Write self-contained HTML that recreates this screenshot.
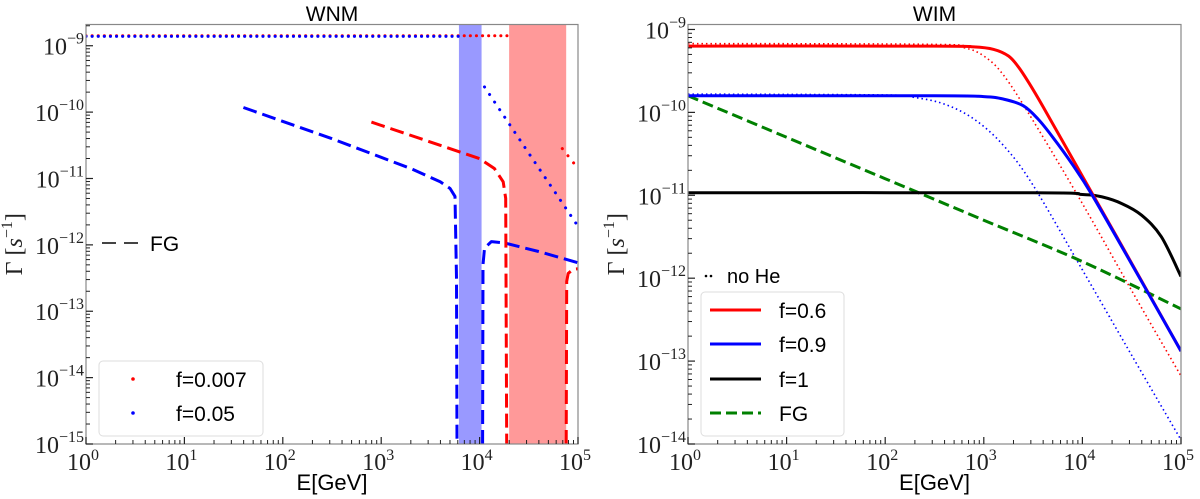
<!DOCTYPE html>
<html><head><meta charset="utf-8"><style>
body{margin:0;background:#fff;}
svg{display:block;}
text{font-family:"Liberation Sans",sans-serif;}
.tk{font-family:"Liberation Serif",serif;font-size:24px;fill:#222;}
.sup{font-size:16px;}
</style></head><body>
<svg id="chart" width="1200" height="499" viewBox="0 0 1200 499"></svg>
<script>
// ---- data (log10 E [GeV], log10 Gamma [s^-1]) ----
// WNM panel
const wnmRedDotE = [0, 4.28];
const wnmRedDotG = [-8.85, -8.85];
const wnmBlueDotE = [0, 3.79];
const wnmBlueDotG = [-8.86, -8.86];
const wnmBlueDot2E = [4.05, 4.5, 5];
const wnmBlueDot2G = [-9.62, -10.62, -11.72];
const wnmRedDot2E = [4.84, 5];
const wnmRedDot2G = [-10.55, -10.85];
const wnmBlueDashAE = [1.6, 2.5, 3.3, 3.6, 3.7, 3.75, 3.765, 3.77];
const wnmBlueDashAG = [-9.93, -10.4, -10.85, -11.05, -11.15, -11.27, -12.5, -15];
const wnmBlueDashBE = [4.03, 4.035, 4.05, 4.12, 4.25, 4.6, 5];
const wnmBlueDashBG = [-15, -12.3, -12.05, -11.95, -11.97, -12.1, -12.27];
const wnmRedDashAE = [2.9, 3.6, 4.0, 4.15, 4.24, 4.265, 4.275];
const wnmRedDashAG = [-10.15, -10.5, -10.7, -10.85, -11.05, -11.3, -15];
const wnmRedDashBE = [4.88, 4.885, 4.9, 4.95, 5];
const wnmRedDashBG = [-15, -12.55, -12.43, -12.37, -12.36];
const wnmBandBlue = [3.79, 4.02];
const wnmBandRed = [4.30, 4.88];
// WIM panel
const wimRedE = [0, 2.5, 2.9, 3.1, 3.25, 3.35, 3.45, 3.6, 4, 4.5, 5];
const wimRedG = [-9.2, -9.2, -9.21, -9.24, -9.32, -9.45, -9.63, -9.93, -10.77, -11.82, -12.88];
const wimRedDotE = [0, 2.5, 2.8, 3.0, 3.2, 3.5, 4, 4.5, 5];
const wimRedDotG = [-9.17, -9.18, -9.22, -9.32, -9.55, -10.1, -11.1, -12.15, -13.18];
const wimBlueE = [0, 2.5, 3.0, 3.2, 3.4, 3.55, 3.7, 3.9, 4.1, 4.5, 5];
const wimBlueG = [-9.8, -9.8, -9.81, -9.84, -9.92, -10.08, -10.3, -10.63, -11.0, -11.83, -12.88];
const wimBlueDotE = [0, 2, 2.3, 2.6, 2.9, 3.2, 3.5, 4, 4.5, 5];
const wimBlueDotG = [-9.78, -9.79, -9.82, -9.9, -10.08, -10.4, -10.88, -11.9, -12.93, -13.95];
const wimBlackE = [0, 3.5, 4, 4.2, 4.4, 4.6, 4.8, 5];
const wimBlackG = [-10.97, -10.97, -10.99, -11.02, -11.1, -11.24, -11.5, -11.98];
const wimFGE = [0, 1, 2, 3, 4, 5];
const wimFGG = [-9.8, -10.3, -10.8, -11.3, -11.8, -12.37];
const xTicks = [0, 1, 2, 3, 4, 5];
const wnmYTicks = [-15, -14, -13, -12, -11, -10, -9];
const wimYTicks = [-14, -13, -12, -11, -10, -9];

const NS = 'http://www.w3.org/2000/svg';
const svg = document.getElementById('chart');
function mk(tag, attrs, parent) {
  const e = document.createElementNS(NS, tag);
  for (const k in attrs) e.setAttribute(k, attrs[k]);
  (parent || svg).appendChild(e);
  return e;
}
function panel(name, x0, x1, y0, y1, ymin, ymax) {
  const g = mk('g', {});
  
  
  const sx = v => x0 + (v - 0) / 5 * (x1 - x0);
  const sy = v => y1 - (v - ymin) / (ymax - ymin) * (y1 - y0);
  return {g, sx, sy, x0, x1, y0, y1, ymin, ymax};
}
function pathD(pts, smooth) {
  if (!smooth || pts.length < 3) return pts.map((p, i) => (i ? 'L' : 'M') + p[0].toFixed(1) + ',' + p[1].toFixed(1)).join('');
  let d = 'M' + pts[0][0].toFixed(1) + ',' + pts[0][1].toFixed(1);
  for (let i = 0; i < pts.length - 1; i++) {
    const p0 = pts[Math.max(0, i - 1)], p1 = pts[i], p2 = pts[i + 1], p3 = pts[Math.min(pts.length - 1, i + 2)];
    const c1 = [p1[0] + (p2[0] - p0[0]) / 6, p1[1] + (p2[1] - p0[1]) / 6];
    const c2 = [p2[0] - (p3[0] - p1[0]) / 6, p2[1] - (p3[1] - p1[1]) / 6];
    d += 'C' + c1[0].toFixed(1) + ',' + c1[1].toFixed(1) + ' ' + c2[0].toFixed(1) + ',' + c2[1].toFixed(1) + ' ' + p2[0].toFixed(1) + ',' + p2[1].toFixed(1);
  }
  return d;
}
function line(p, E, G, color, w, dash, name, cap, smooth) {
  const pts = E.map((e, i) => [p.sx(e), p.sy(G[i])]);
  const a = {d: pathD(pts, smooth), fill: 'none', stroke: color, 'stroke-width': w, 'stroke-linejoin': 'round'};
  if (dash) a['stroke-dasharray'] = dash;
  if (cap) a['stroke-linecap'] = cap;
  const el = mk('path', a, p.g);
  
  
}
function axes(p, yTicks, title) {
  const cp = mk('clipPath', {id: 'clip-' + title}, svg);
  mk('rect', {x: p.x0, y: p.y0, width: p.x1 - p.x0, height: p.y1 - p.y0}, cp);
  p.g.setAttribute('clip-path', 'url(#clip-' + title + ')');
  const a = mk('g', {});
  
  
  mk('rect', {x: p.x0, y: p.y0, width: p.x1 - p.x0, height: p.y1 - p.y0, fill: 'none', stroke: '#888', 'stroke-width': 1.2}, a);
  xTicks.forEach(t => {
    const x = p.sx(t);
    mk('line', {x1: x, x2: x, y1: p.y1, y2: p.y1 - 7, stroke: '#222', 'stroke-width': 1.2}, a);
    if (t < 5) for (let m = 2; m <= 9; m++) {
      const xm = p.sx(t + Math.log10(m));
      mk('line', {x1: xm, x2: xm, y1: p.y1, y2: p.y1 - 4, stroke: '#222', 'stroke-width': 1}, a);
    }
    const tx = mk('text', {x: x - 3, y: p.y1 + 26, 'text-anchor': 'middle', class: 'tk'}, a);
    
    
    tx.innerHTML = '10<tspan class="sup" dy="-10">' + t + '</tspan>';
  });
  yTicks.forEach(t => {
    const y = p.sy(t);
    mk('line', {x1: p.x0, x2: p.x0 + 7, y1: y, y2: y, stroke: '#222', 'stroke-width': 1.2}, a);
    for (let m = 2; m <= 9; m++) {
      const ym = p.sy(t + Math.log10(m));
      if (ym >= p.y0) mk('line', {x1: p.x0, x2: p.x0 + 4, y1: ym, y2: ym, stroke: '#222', 'stroke-width': 1}, a);
    }
    const tx = mk('text', {x: p.x0 - 2, y: y + 9, 'text-anchor': 'end', class: 'tk'}, a);
    
    
    tx.innerHTML = '10<tspan class="sup" dy="-11">\u2212' + (-t) + '</tspan>';
  });
  const tt = mk('text', {x: (p.x0 + p.x1) / 2, y: 21, 'text-anchor': 'middle', 'font-size': 21}, a);
  
  
  tt.textContent = title;
  const xl = mk('text', {x: (p.x0 + p.x1) / 2, y: 490, 'text-anchor': 'middle', 'font-size': 22}, a);
  
  
  xl.textContent = 'E[GeV]';
  const yx = p.x0 - 64, yy = (p.y0 + p.y1) / 2 + 10;
  const yl = mk('text', {x: yx, y: yy, 'text-anchor': 'middle', 'font-size': 24, class: 'tk', transform: 'rotate(-90 ' + yx + ' ' + yy + ')'}, a);
  
  
  yl.innerHTML = '\u0393 [<tspan font-style="italic">s</tspan><tspan class="sup" dy="-10">\u22121</tspan><tspan dy="10">]</tspan>';
}

// ---- WNM ----
const L = panel('wnm', 86, 578, 24.5, 444, -15, -8.68);
[[wnmBandBlue, '#9999ff', 'band-blue'], [wnmBandRed, '#ff9999', 'band-red']].forEach(b => {
  const r = mk('rect', {x: L.sx(b[0][0]), y: L.y0, width: L.sx(b[0][1]) - L.sx(b[0][0]), height: L.y1 - L.y0, fill: b[1]}, L.g);
  
  
});
line(L, wnmRedDotE, wnmRedDotG, '#f00', 3, '0.1 6', 'wnm-red-dotted', 'round');
line(L, wnmBlueDotE, wnmBlueDotG, '#00f', 3, '0.1 6', 'wnm-blue-dotted', 'round');
line(L, wnmBlueDot2E, wnmBlueDot2G, '#00f', 3, '0.1 9', 'wnm-blue-dotted-2', 'round');
line(L, wnmRedDot2E, wnmRedDot2G, '#f00', 3, '0.1 9', 'wnm-red-dotted-2', 'round');
line(L, wnmBlueDashAE, wnmBlueDashAG, '#00f', 3, '14 6', 'wnm-blue-dashed-a');
line(L, wnmBlueDashBE, wnmBlueDashBG, '#00f', 3, '14 6', 'wnm-blue-dashed-b');
line(L, wnmRedDashAE, wnmRedDashAG, '#f00', 3, '14 6', 'wnm-red-dashed-a');
line(L, wnmRedDashBE, wnmRedDashBG, '#f00', 3, '14 6', 'wnm-red-dashed-b');
axes(L, wnmYTicks, 'WNM');

// ---- WIM ----
const R = panel('wim', 688, 1181, 24.5, 444, -14, -8.94);
line(R, wimRedDotE, wimRedDotG, '#f00', 1.6, '1.5 3', 'wim-red-dotted', null, true);
line(R, wimBlueDotE, wimBlueDotG, '#00f', 1.6, '1.5 3', 'wim-blue-dotted', null, true);
line(R, wimFGE, wimFGG, '#008000', 3, '11 5', 'wim-fg-dashed', null, true);
line(R, wimBlackE, wimBlackG, '#000', 3, null, 'wim-f1-line', null, true);
line(R, wimRedE, wimRedG, '#f00', 3, null, 'wim-f06-line', null, true);
line(R, wimBlueE, wimBlueG, '#00f', 3, null, 'wim-f09-line', null, true);
axes(R, wimYTicks, 'WIM');
</script>
<div style="position:absolute;left:0;top:0;width:1200px;height:499px;pointer-events:none">
<svg width="1200" height="499" style="position:absolute;left:0;top:0">
  <g>
    <line x1="102" y1="243" x2="139" y2="243" stroke="#444" stroke-width="2" stroke-dasharray="14 8"/>
    <text x="150" y="251" font-family="Liberation Sans, sans-serif" font-size="21">FG</text>
  </g>
  <g>
    <rect x="99" y="361" width="164" height="75" rx="4" fill="#fff" fill-opacity="0.8" stroke="#ddd"/>
    <circle cx="133" cy="379" r="1.8" fill="#f00"/>
    <text x="176" y="387" font-family="Liberation Sans, sans-serif" font-size="21">f=0.007</text>
    <circle cx="133" cy="413" r="1.8" fill="#00f"/>
    <text x="176" y="421" font-family="Liberation Sans, sans-serif" font-size="21">f=0.05</text>
  </g>
  <g>
    <circle cx="706" cy="276" r="1.3" fill="#000"/><circle cx="711" cy="276" r="1.3" fill="#000"/>
    <text x="727" y="283" font-family="Liberation Sans, sans-serif" font-size="20">no He</text>
  </g>
  <g>
    <rect x="701" y="292" width="143" height="144" rx="4" fill="#fff" fill-opacity="0.8" stroke="#ddd"/>
    <line x1="710" y1="310" x2="761" y2="310" stroke="#f00" stroke-width="3"/>
    <text x="779" y="318" font-family="Liberation Sans, sans-serif" font-size="21">f=0.6</text>
    <line x1="710" y1="344" x2="761" y2="344" stroke="#00f" stroke-width="3"/>
    <text x="779" y="352" font-family="Liberation Sans, sans-serif" font-size="21">f=0.9</text>
    <line x1="710" y1="379" x2="761" y2="379" stroke="#000" stroke-width="3"/>
    <text x="779" y="387" font-family="Liberation Sans, sans-serif" font-size="21">f=1</text>
    <line x1="710" y1="413" x2="761" y2="413" stroke="#008000" stroke-width="3" stroke-dasharray="11 5"/>
    <text x="779" y="421" font-family="Liberation Sans, sans-serif" font-size="21">FG</text>
  </g>
</svg>
</div>
</body></html>
